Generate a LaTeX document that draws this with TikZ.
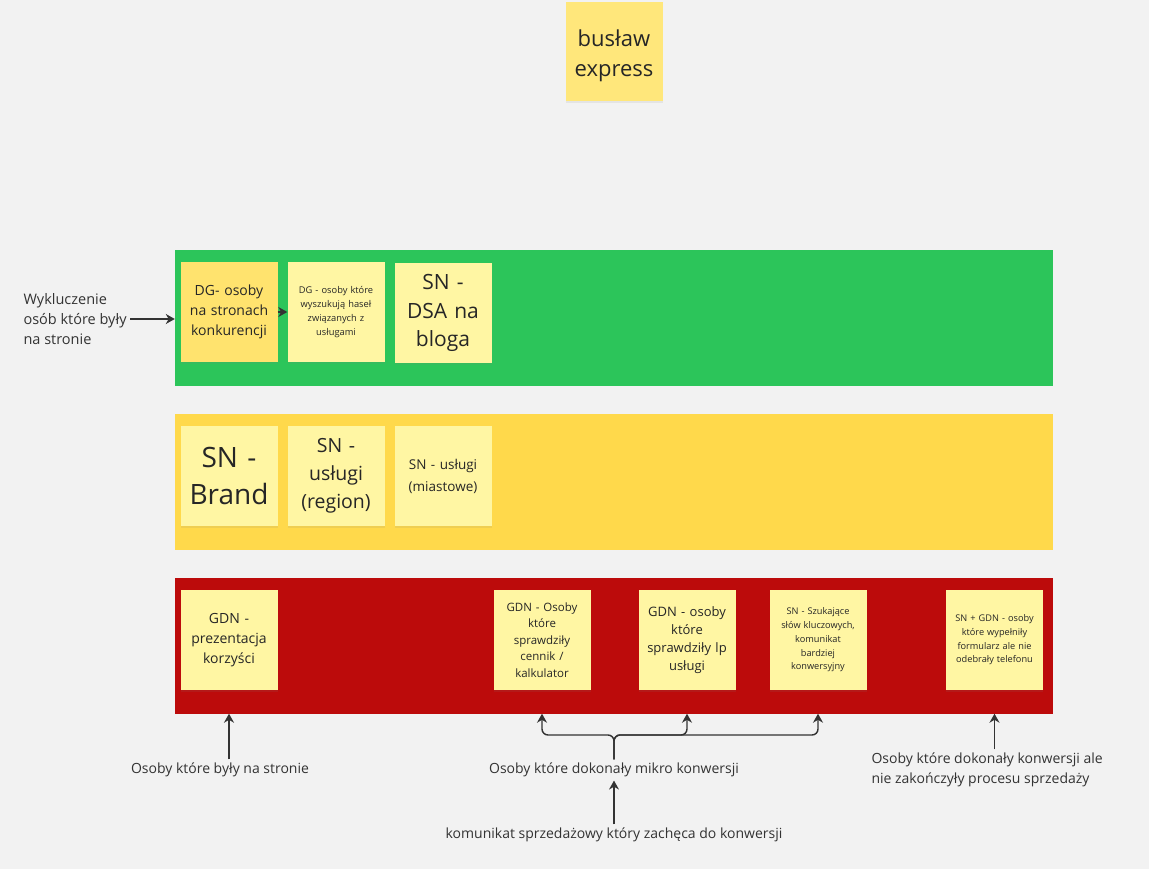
\documentclass[tikz,border=0pt]{standalone}
\usepackage{fontspec}
\setmainfont{Open Sans}
\usepackage{tikz}
\usetikzlibrary{arrows.meta,shadows}

\definecolor{board}{HTML}{F2F2F2}
\definecolor{bandgreen}{HTML}{2CC55A}
\definecolor{bandyellow}{HTML}{FFD94B}
\definecolor{bandred}{HTML}{BC0B0B}
\definecolor{notelight}{HTML}{FFF6A3}
\definecolor{notedark}{HTML}{FFE36E}
\definecolor{notetitle}{HTML}{FFE77B}
\definecolor{ink}{HTML}{333333}

\newcommand{\fs}[2]{\fontsize{#1}{#2}\selectfont}

\begin{document}
\begin{tikzpicture}[x=1pt,y=-1pt,
  band/.style={fill=#1,minimum width=878pt,minimum height=136pt,inner sep=0pt},
  sticky/.style={fill=notelight,minimum width=97pt,minimum height=100pt,
    text width=92pt,align=center,inner sep=0pt,text=black!85,
    drop shadow={opacity=0.12,shadow xshift=0pt,shadow yshift=-2pt}},
  label/.style={align=center,text=black!80,font=\fs{14}{20}},
  arr/.style={draw=ink,line width=1.4pt,-{Stealth[length=9pt,width=10pt]}}]
\useasboundingbox (0,0) rectangle (1149,869);
\fill[board] (0,0) rectangle (1149,869);

% title
\node[sticky,fill=notetitle,minimum height=99pt,font=\fs{22}{30}] (title) at (614,52)
  {\raisebox{-4pt}[\height][\depth]{\begin{tabular}{@{}c@{}}busław\\express\end{tabular}}};

% bands
\node[band=bandgreen] (green) at (614,318) {};
\node[band=bandyellow] (yellow) at (614,482) {};
\node[band=bandred] (red) at (614,645.5) {};

% green row
\node[sticky,fill=notedark,font=\fs{14}{20}] (dg1) at (229,312) {DG- osoby\\na stronach\\konkurencji};
\node[sticky,font=\fs{9.3}{14}] (dg2) at (336,312) {DG - osoby które\\wyszukują haseł\\związanych z\\usługami};
\node[sticky,font=\fs{21}{28.5}] (dsa) at (443,313) {SN -\\DSA na\\bloga};

% yellow row
\node[sticky,font=\fs{28}{37}] (brand) at (229,476) {SN -\\Brand};
\node[sticky,font=\fs{19.5}{28}] (region) at (336,476) {SN -\\usługi\\(region)};
\node[sticky,font=\fs{13.5}{22}] (miasto) at (443,476) {SN - usługi\\(miastowe)};

% red row
\node[sticky,font=\fs{14}{20}] (gdn1) at (229,640) {GDN -\\prezentacja\\korzyści};
\node[sticky,font=\fs{11.5}{16.5}] (gdn2) at (542,640) {GDN - Osoby\\które\\sprawdziły\\cennik /\\kalkulator};
\node[sticky,font=\fs{13}{18}] (gdn3) at (687,640) {GDN - osoby\\które\\sprawdziły lp\\usługi};
\node[sticky,font=\fs{9.2}{13.7}] (sn1) at (818,640) {SN - Szukające\\słów kluczowych,\\komunikat\\bardziej\\konwersyjny};
\node[sticky,font=\fs{9.2}{13.7}] (sngdn) at (994.5,640) {SN + GDN - osoby\\które wypełniły\\formularz ale nie\\odebrały telefonu};

% labels
\node[label,align=left,anchor=west,font=\fs{14.5}{20}] (wyk) at (20,319) {Wykluczenie\\osób które były\\na stronie};
\node[label] (byli) at (220,770) {Osoby które były na stronie};
\node[label] (mikro) at (614,770) {Osoby które dokonały mikro konwersji};
\node[label] (komunikat) at (614,835) {komunikat sprzedażowy który zachęca do konwersji};
\node[label,align=left,anchor=west] (konw) at (868,770) {Osoby które dokonały konwersji ale\\nie zakończyły procesu sprzedaży};

% arrows
\draw[arr] (wyk.east) -- (wyk.east -| green.west);
\draw[arr] (dg1.east) -- (dg2.west);
\draw[arr] (byli.north -| gdn1.south) -- (gdn1.south |- red.south);
\coordinate (fork) at (614,735);
\draw[arr,rounded corners=6pt] (mikro.north) -- (fork) -| (gdn2.south |- red.south);
\draw[arr,rounded corners=6pt] (mikro.north) -- (fork) -| (gdn3.south |- red.south);
\draw[arr,rounded corners=6pt] (mikro.north) -- (fork) -| (sn1.south |- red.south);
\draw[arr] (komunikat.north) -- (mikro.south);
\draw[arr] (konw.north -| sngdn.south) -- (sngdn.south |- red.south);
\end{tikzpicture}
\end{document}
